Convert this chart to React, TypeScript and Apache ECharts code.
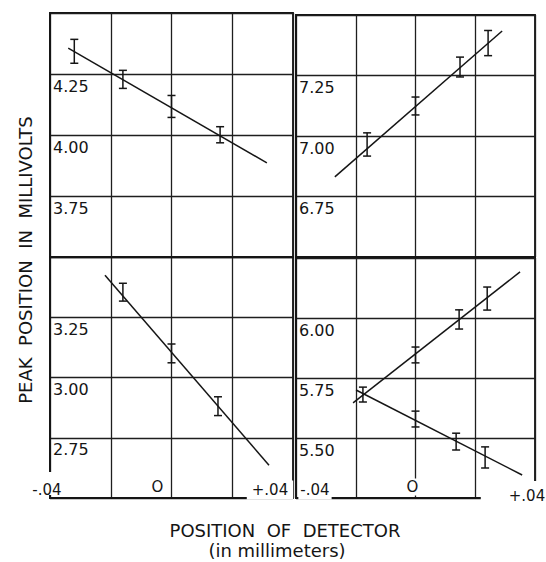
import React, { useEffect, useRef } from "react";
import * as echarts from "echarts";

// ---- axis ranges & tick labels ----
const xMin = -0.04;
const xMax = 0.04;
const xStep = 0.02;
const xTickValues = [-0.04, 0, 0.04];
const xTickLabels = ["-.04", "O", "+.04"];

// panel order: top-left, bottom-left, top-right, bottom-right
const panelYMin = [3.5, 2.5, 6.5, 5.25];
const panelYMax = [4.5, 3.5, 7.5, 6.25];
const yStep = 0.25;
const yTickLabels = [
  ["4.25", "4.00", "3.75"],
  ["3.25", "3.00", "2.75"],
  ["7.25", "7.00", "6.75"],
  ["6.00", "5.75", "5.50"],
];

const yTitle = "PEAK\u00A0\u00A0POSITION\u00A0\u00A0IN\u00A0\u00A0MILLIVOLTS";
const xTitle = "POSITION\u00A0 OF\u00A0 DETECTOR";
const xSubtitle = "(in millimeters)";

// ---- data: [x, y, half error] ----
const topLeftPoints = [
  [-0.032, 4.343, 0.049],
  [-0.016, 4.228, 0.037],
  [0.0, 4.117, 0.045],
  [0.016, 4.001, 0.033],
];
const topLeftFit = [
  [-0.034, 4.356],
  [0.0314, 3.886],
];

const bottomLeftPoints = [
  [-0.016, 3.354, 0.037],
  [0.0, 3.1, 0.039],
  [0.0153, 2.881, 0.039],
];
const bottomLeftFit = [
  [-0.0219, 3.424],
  [0.0321, 2.636],
];

const topRightPoints = [
  [-0.0162, 6.965, 0.048],
  [0.0, 7.124, 0.037],
  [0.0149, 7.285, 0.041],
  [0.0243, 7.384, 0.052],
];
const topRightFit = [
  [-0.027, 6.831],
  [0.029, 7.434],
];

const bottomRightUpperPoints = [
  [-0.0176, 5.681, 0.031],
  [0.0, 5.846, 0.033],
  [0.0146, 5.994, 0.04],
  [0.024, 6.081, 0.048],
];
const bottomRightUpperFit = [
  [-0.0209, 5.646],
  [0.035, 6.192],
];
const bottomRightLowerPoints = [
  [0.0, 5.579, 0.033],
  [0.0136, 5.485, 0.035],
  [0.0233, 5.419, 0.044],
];
const bottomRightLowerFit = [
  [-0.0199, 5.7],
  [0.0357, 5.346],
];

// ---- layout ----
const INK = "#151515";
const FONT = "DejaVu Sans";
const grids = [
  { left: 50, top: 13, width: 243, height: 244 },
  { left: 50, top: 257, width: 243, height: 241 },
  { left: 296, top: 15, width: 239, height: 242 },
  { left: 296, top: 258, width: 239, height: 240 },
];

// x-tick label placement relative to the tick position on the bottom axis
// mask: optional white rect (relative to tick) hiding the end of a border line
const xLabelLayout = [
  {
    grid: 1,
    items: [
      { dx: -3, dy: -8, pad: [0, 0, 0, 0], bg: false, mask: [-6, -26, 12, 23] },
      { dx: -14, dy: -11, pad: [0, 0, 0, 0], bg: false, mask: null },
      { dx: -23, dy: -8, pad: [1, 5, 3, 5], bg: true, mask: null },
    ],
  },
  {
    grid: 3,
    items: [
      { dx: 19, dy: -8, pad: [1, 2, 3, 2], bg: true, mask: null },
      { dx: -3, dy: -11, pad: [1, 1, 1, 1], bg: true, mask: null },
      { dx: -21, dy: -2, pad: [9, 2, 6, 28], bg: true, mask: null },
    ],
  },
];

function errorBarSeries(data: number[][], idx: number) {
  return {
    type: "custom",
    xAxisIndex: idx,
    yAxisIndex: idx,
    clip: false,
    data,
    encode: { x: 0, y: 1 },
    renderItem: (params: any, api: any) => {
      const x = api.value(0);
      const y = api.value(1);
      const e = api.value(2);
      const t = api.coord([x, y + e]);
      const b = api.coord([x, y - e]);
      const cap = 4;
      const style = { stroke: INK, lineWidth: 1.5 };
      return {
        type: "group",
        children: [
          { type: "line", shape: { x1: t[0], y1: t[1], x2: b[0], y2: b[1] }, style },
          { type: "line", shape: { x1: t[0] - cap, y1: t[1], x2: t[0] + cap, y2: t[1] }, style },
          { type: "line", shape: { x1: b[0] - cap, y1: b[1], x2: b[0] + cap, y2: b[1] }, style },
        ],
      };
    },
  };
}

function fitSeries(data: number[][], idx: number) {
  return {
    type: "line",
    xAxisIndex: idx,
    yAxisIndex: idx,
    data,
    symbol: "none",
    showSymbol: false,
    clip: false,
    lineStyle: { color: INK, width: 1.5 },
  };
}

export default function App() {
  const ref = useRef<HTMLDivElement>(null);

  useEffect(() => {
    if (!ref.current) return;
    const chart = echarts.init(ref.current, null, { renderer: "svg" });

    const option: any = {
      animation: false,
      backgroundColor: "#ffffff",
      grid: grids.map((g) => ({
        ...g,
        show: true,
        borderColor: INK,
        borderWidth: 1.8,
        outerBoundsMode: "none",
        containLabel: false,
      })),
      xAxis: grids.map((_, i) => ({
        type: "value",
        gridIndex: i,
        min: xMin,
        max: xMax,
        interval: xStep,
        axisLine: { show: true, onZero: false, lineStyle: { color: INK, width: 1.8 } },
        axisTick: { show: false },
        axisLabel: { show: false },
        splitLine: { show: true, lineStyle: { color: "#1e1e1e", width: 1.3 } },
      })),
      yAxis: grids.map((_, i) => ({
        type: "value",
        gridIndex: i,
        min: panelYMin[i],
        max: panelYMax[i],
        interval: yStep,
        axisLine: { show: true, onZero: false, lineStyle: { color: INK, width: 1.8 } },
        axisTick: { show: false },
        splitLine: { show: true, lineStyle: { color: "#1e1e1e", width: 1.3 } },
        axisLabel: {
          show: true,
          inside: true,
          margin: 3,
          verticalAlign: "top",
          padding: [4, 0, 0, 0],
          fontSize: 16,
          fontFamily: FONT,
          color: INK,
          showMinLabel: true,
          showMaxLabel: true,
          hideOverlap: false,
          formatter: (v: number) => {
            const s = v.toFixed(2);
            return yTickLabels[i].includes(s) ? s : "";
          },
        },
      })),
      series: [
        fitSeries(topLeftFit, 0),
        errorBarSeries(topLeftPoints, 0),
        fitSeries(bottomLeftFit, 1),
        errorBarSeries(bottomLeftPoints, 1),
        fitSeries(topRightFit, 2),
        errorBarSeries(topRightPoints, 2),
        fitSeries(bottomRightUpperFit, 3),
        errorBarSeries(bottomRightUpperPoints, 3),
        fitSeries(bottomRightLowerFit, 3),
        errorBarSeries(bottomRightLowerPoints, 3),
      ],
    };
    chart.setOption(option);

    const graphics: any[] = [];
    xLabelLayout.forEach((panel) => {
      xTickValues.forEach((v, k) => {
        const p = chart.convertToPixel({ gridIndex: panel.grid } as any, [v, panelYMin[panel.grid]]) as number[];
        const it = panel.items[k];
        if (it.mask) {
          graphics.push({
            type: "rect",
            z: 99,
            shape: { x: p[0] + it.mask[0], y: p[1] + it.mask[1], width: it.mask[2], height: it.mask[3] },
            style: { fill: "#ffffff" },
          });
        }
        graphics.push({
          type: "text",
          x: p[0] + it.dx,
          y: p[1] + it.dy,
          z: 100,
          style: {
            text: xTickLabels[k],
            fontSize: 15,
            fontFamily: FONT,
            fill: INK,
            align: "center",
            verticalAlign: "middle",
            textAlign: "center",
            textVerticalAlign: "middle",
            backgroundColor: it.bg ? "#ffffff" : undefined,
            padding: it.pad,
          },
        });
      });
    });
    graphics.push({
      type: "text",
      x: 25,
      y: 260,
      rotation: Math.PI / 2,
      z: 100,
      style: {
        text: yTitle,
        fontSize: 18,
        fontFamily: FONT,
        fill: INK,
        align: "center",
        verticalAlign: "middle",
        textAlign: "center",
        textVerticalAlign: "middle",
      },
    });
    graphics.push({
      type: "text",
      x: 285,
      y: 530,
      z: 100,
      style: {
        text: xTitle,
        fontSize: 18,
        fontFamily: FONT,
        fill: INK,
        align: "center",
        verticalAlign: "middle",
        textAlign: "center",
        textVerticalAlign: "middle",
      },
    });
    graphics.push({
      type: "text",
      x: 277,
      y: 550,
      z: 100,
      style: {
        text: xSubtitle,
        fontSize: 18,
        fontFamily: FONT,
        fill: INK,
        align: "center",
        verticalAlign: "middle",
        textAlign: "center",
        textVerticalAlign: "middle",
      },
    });
    chart.setOption({ graphic: graphics });

    return () => chart.dispose();
  }, []);

  return (
    <div
      ref={ref}
      style={{ position: "absolute", left: 0, top: 0, width: 546, height: 562, background: "#fff" }}
    />
  );
}
